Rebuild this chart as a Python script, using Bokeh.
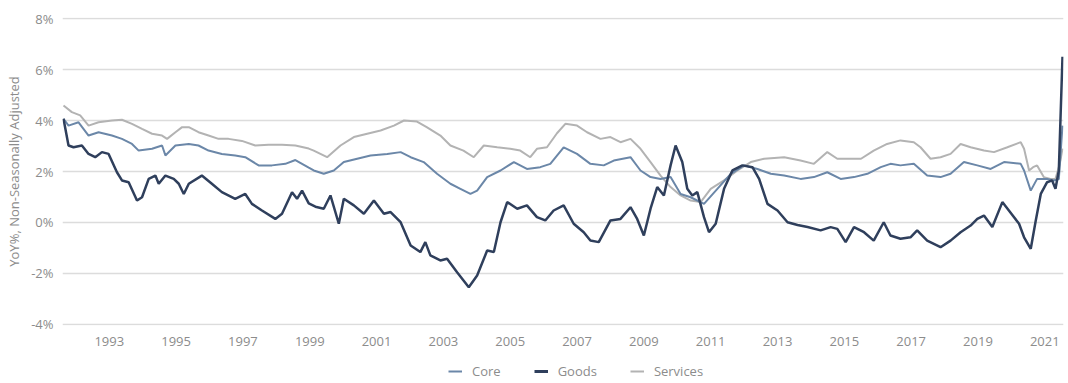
from bokeh.plotting import figure
from bokeh.layouts import column
from bokeh.models import Range1d, FixedTicker, PrintfTickFormatter, Legend, LegendItem
from bokeh.embed import file_html
from bokeh.resources import INLINE

core_x = [1991.63, 1991.78, 1992.08, 1992.38, 1992.68, 1993.08, 1993.38, 1993.68, 1993.88, 1994.28,
          1994.58, 1994.68, 1994.98, 1995.38, 1995.67, 1995.97, 1996.37, 1996.77, 1997.07, 1997.47,
          1997.87, 1998.27, 1998.57, 1998.97, 1999.12, 1999.42, 1999.72, 2000.02, 2000.42, 2000.82,
          2001.32, 2001.72, 2002.02, 2002.41, 2002.81, 2003.21, 2003.51, 2003.81, 2004.01, 2004.31,
          2004.71, 2005.11, 2005.5, 2005.9, 2006.2, 2006.6, 2007.0, 2007.4, 2007.8, 2008.1,
          2008.6, 2008.9, 2009.2, 2009.5, 2009.8, 2010.1, 2010.4, 2010.8, 2011.2, 2011.6,
          2012.0, 2012.4, 2012.8, 2013.2, 2013.69, 2014.09, 2014.49, 2014.89, 2015.29, 2015.69,
          2016.09, 2016.38, 2016.68, 2017.08, 2017.48, 2017.88, 2018.18, 2018.58, 2018.98, 2019.38,
          2019.78, 2020.28, 2020.38, 2020.58, 2020.77, 2021.07, 2021.27, 2021.42, 2021.53]
core_y = [4.07, 3.8, 3.93, 3.41, 3.54, 3.41, 3.28, 3.08, 2.82, 2.89,
          3.02, 2.63, 3.02, 3.08, 3.02, 2.82, 2.69, 2.63, 2.56, 2.24,
          2.24, 2.3, 2.45, 2.15, 2.04, 1.91, 2.04, 2.37, 2.5, 2.63,
          2.69, 2.76, 2.56, 2.37, 1.91, 1.52, 1.32, 1.12, 1.25, 1.78,
          2.04, 2.37, 2.1, 2.17, 2.3, 2.95, 2.69, 2.3, 2.24, 2.43,
          2.56, 2.04, 1.78, 1.71, 1.78, 1.12, 0.99, 0.73, 1.32, 1.91,
          2.24, 2.1, 1.91, 1.84, 1.71, 1.78, 1.97, 1.71, 1.78, 1.91,
          2.17, 2.3, 2.24, 2.3, 1.84, 1.78, 1.91, 2.37, 2.24, 2.1,
          2.37, 2.3, 2.04, 1.25, 1.71, 1.71, 1.65, 1.7, 3.8]

goods_x = [1991.63, 1991.78, 1991.93, 1992.18, 1992.38, 1992.58, 1992.78, 1992.98, 1993.23, 1993.38,
           1993.58, 1993.83, 1993.98, 1994.18, 1994.38, 1994.48, 1994.68, 1994.93, 1995.08, 1995.23,
           1995.38, 1995.77, 1996.07, 1996.37, 1996.77, 1997.07, 1997.27, 1997.57, 1997.97, 1998.17,
           1998.47, 1998.62, 1998.77, 1998.97, 1999.17, 1999.42, 1999.62, 1999.87, 2000.02, 2000.32,
           2000.62, 2000.92, 2001.22, 2001.42, 2001.72, 2002.02, 2002.31, 2002.46, 2002.61, 2002.91,
           2003.11, 2003.41, 2003.76, 2004.01, 2004.31, 2004.51, 2004.71, 2004.91, 2005.21, 2005.5,
           2005.8, 2006.05, 2006.3, 2006.6, 2006.9, 2007.2, 2007.4, 2007.65, 2008.0, 2008.3,
           2008.6, 2008.8, 2009.0, 2009.2, 2009.4, 2009.6, 2009.8, 2009.95, 2010.15, 2010.3,
           2010.45, 2010.6, 2010.8, 2010.95, 2011.15, 2011.4, 2011.65, 2011.95, 2012.25, 2012.45,
           2012.7, 2013.0, 2013.3, 2013.6, 2013.9, 2014.29, 2014.59, 2014.79, 2015.04, 2015.29,
           2015.59, 2015.88, 2016.18, 2016.38, 2016.68, 2016.98, 2017.18, 2017.48, 2017.88, 2018.18,
           2018.48, 2018.78, 2018.98, 2019.18, 2019.43, 2019.73, 2020.0, 2020.23, 2020.38, 2020.58,
           2020.73, 2020.88, 2021.07, 2021.22, 2021.32, 2021.42, 2021.53]
goods_y = [4.07, 3.02, 2.95, 3.02, 2.69, 2.56, 2.76, 2.69, 1.97, 1.65,
           1.58, 0.86, 0.99, 1.71, 1.84, 1.52, 1.84, 1.71, 1.52, 1.12,
           1.52, 1.84, 1.52, 1.19, 0.93, 1.12, 0.73, 0.47, 0.14, 0.34,
           1.19, 0.93, 1.25, 0.75, 0.62, 0.54, 1.06, -0.05, 0.93, 0.67,
           0.34, 0.86, 0.34, 0.41, 0.01, -0.9, -1.16, -0.77, -1.29, -1.49,
           -1.42, -1.95, -2.54, -2.08, -1.1, -1.16, 0.01, 0.8, 0.54, 0.67,
           0.21, 0.08, 0.47, 0.67, -0.05, -0.38, -0.71, -0.77, 0.08, 0.14,
           0.6, 0.14, -0.51, 0.54, 1.39, 1.06, 2.24, 3.02, 2.37, 1.32,
           1.06, 1.19, 0.21, -0.38, -0.05, 1.32, 2.04, 2.24, 2.17, 1.71,
           0.73, 0.47, 0.01, -0.1, -0.18, -0.31, -0.18, -0.25, -0.77, -0.18,
           -0.38, -0.71, 0.01, -0.51, -0.64, -0.58, -0.31, -0.71, -0.97, -0.71,
           -0.38, -0.12, 0.14, 0.27, -0.18, 0.8, 0.34, -0.05, -0.58, -1.03,
           0.08, 1.12, 1.58, 1.65, 1.32, 2.04, 6.5]

services_x = [1991.63, 1991.88, 1992.13, 1992.38, 1992.68, 1993.08, 1993.38, 1993.68, 1993.98, 1994.28,
              1994.58, 1994.73, 1994.98, 1995.18, 1995.38, 1995.67, 1995.97, 1996.27, 1996.57, 1996.97,
              1997.37, 1997.77, 1998.17, 1998.57, 1998.97, 1999.12, 1999.52, 1999.92, 2000.32, 2000.72,
              2001.12, 2001.52, 2001.82, 2002.21, 2002.5, 2002.91, 2003.21, 2003.6, 2003.91, 2004.21,
              2004.61, 2005.0, 2005.3, 2005.6, 2005.8, 2006.1, 2006.4, 2006.65, 2007.0, 2007.3,
              2007.7, 2008.0, 2008.3, 2008.6, 2008.9, 2009.2, 2009.5, 2009.8, 2010.1, 2010.4,
              2010.7, 2011.0, 2011.4, 2011.8, 2012.2, 2012.6, 2013.2, 2013.69, 2014.09, 2014.49,
              2014.79, 2015.19, 2015.5, 2015.88, 2016.28, 2016.68, 2017.08, 2017.28, 2017.58, 2017.88,
              2018.18, 2018.48, 2018.78, 2019.18, 2019.48, 2019.88, 2020.28, 2020.38, 2020.53, 2020.65,
              2020.77, 2020.97, 2021.17, 2021.32, 2021.45, 2021.53]
services_y = [4.59, 4.33, 4.2, 3.8, 3.93, 4.0, 4.03, 3.87, 3.67, 3.48,
              3.41, 3.28, 3.54, 3.74, 3.74, 3.54, 3.41, 3.28, 3.28, 3.2,
              3.02, 3.05, 3.05, 3.02, 2.9, 2.82, 2.56, 3.02, 3.35, 3.48,
              3.61, 3.8, 4.0, 3.96, 3.74, 3.41, 3.02, 2.82, 2.56, 3.02,
              2.95, 2.89, 2.82, 2.56, 2.89, 2.95, 3.5, 3.87, 3.8, 3.54,
              3.28, 3.35, 3.15, 3.28, 2.89, 2.37, 1.84, 1.39, 1.06, 0.86,
              0.8, 1.32, 1.65, 2.04, 2.37, 2.5, 2.56, 2.43, 2.3, 2.76,
              2.5, 2.5, 2.5, 2.82, 3.08, 3.22, 3.15, 2.95, 2.5, 2.56,
              2.69, 3.08, 2.95, 2.82, 2.76, 2.95, 3.15, 2.89, 2.04, 2.17,
              2.24, 1.78, 1.71, 1.71, 2.3, 2.9]

x_ticks = [1993, 1995, 1997, 1999, 2001, 2003, 2005, 2007, 2009, 2011, 2013, 2015, 2017, 2019, 2021]
y_ticks = [-4, -2, 0, 2, 4, 6, 8]
y_label = "YoY%, Non-Seasonally Adjusted"
series_names = ["Core", "Goods", "Services"]

FONT = "Open Sans"
GRAY = "#8c8c8c"
C_CORE, C_GOODS, C_SERV = "#6b87a8", "#2f3f5c", "#b3b3b3"

p = figure(width=1068, height=358, output_backend="svg", toolbar_location=None,
           x_range=Range1d(1991.6, 2021.56), y_range=Range1d(-4.04, 8.04),
           min_border_left=62, min_border_right=5, min_border_top=17, min_border_bottom=33)
p.outline_line_color = None
p.background_fill_color = "white"

p.xgrid.visible = False
p.ygrid.ticker = FixedTicker(ticks=y_ticks)
p.ygrid.grid_line_color = "#dcdcdc"
p.ygrid.grid_line_width = 1.5

p.yaxis.ticker = FixedTicker(ticks=y_ticks)
p.yaxis.formatter = PrintfTickFormatter(format="%d%%")
p.xaxis.ticker = FixedTicker(ticks=x_ticks)
p.xaxis.formatter = PrintfTickFormatter(format="%d")
for ax in (p.xaxis[0], p.yaxis[0]):
    ax.axis_line_color = None
    ax.major_tick_line_color = None
    ax.minor_tick_line_color = None
    ax.major_tick_out = 0
    ax.major_tick_in = 0
    ax.minor_tick_out = 0
    ax.major_label_text_font = FONT
    ax.major_label_text_font_size = "13px"
    ax.major_label_text_color = GRAY
p.xaxis.major_label_standoff = 11
p.yaxis.major_label_standoff = 9
p.yaxis.axis_label = y_label
p.yaxis.axis_label_text_font = FONT
p.yaxis.axis_label_text_font_size = "13px"
p.yaxis.axis_label_text_font_style = "normal"
p.yaxis.axis_label_text_color = GRAY
p.yaxis.axis_label_standoff = 5

p.line(services_x, services_y, line_color=C_SERV, line_width=2)
p.line(core_x, core_y, line_color=C_CORE, line_width=2)
p.line(goods_x, goods_y, line_color=C_GOODS, line_width=2.5)

# legend strip underneath (swatch lines sit outside the visible range)
q = figure(width=1068, height=25, output_backend="svg", toolbar_location=None,
           x_axis_type=None, y_axis_type=None,
           min_border_left=0, min_border_right=0, min_border_top=0, min_border_bottom=0,
           x_range=Range1d(0, 1), y_range=Range1d(0, 1))
q.outline_line_color = None
q.grid.visible = False
l_core = q.line([-2, -1], [-2, -1], line_color=C_CORE, line_width=2)
l_goods = q.line([-2, -1], [-2, -1], line_color=C_GOODS, line_width=3)
l_serv = q.line([-2, -1], [-2, -1], line_color=C_SERV, line_width=2)
legend = Legend(items=[LegendItem(label=series_names[0], renderers=[l_core]),
                       LegendItem(label=series_names[1], renderers=[l_goods]),
                       LegendItem(label=series_names[2], renderers=[l_serv])],
                orientation="horizontal", location=(386, 3))
legend.label_text_font = FONT
legend.label_text_font_size = "13px"
legend.label_text_color = GRAY
legend.glyph_width = 14
legend.glyph_height = 14
legend.label_height = 14
legend.label_standoff = 10
legend.spacing = 33
legend.border_line_color = None
legend.background_fill_alpha = 0
legend.padding = 0
legend.margin = 0
q.add_layout(legend, "center")

open("out.html", "w").write(file_html(column(p, q, spacing=0), INLINE))
